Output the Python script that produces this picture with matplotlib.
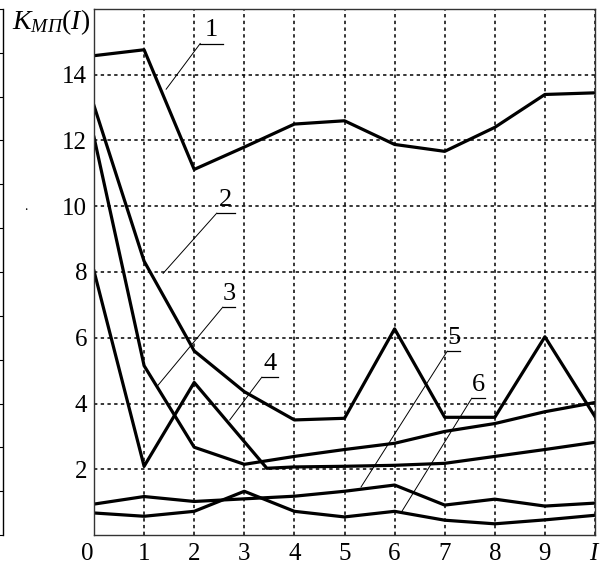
import matplotlib
matplotlib.use("Agg")
import matplotlib.pyplot as plt
import matplotlib.transforms as mtransforms
import numpy as np

plt.rcParams['font.family'] = ['Liberation Serif', 'DejaVu Serif']
plt.rcParams['mathtext.fontset'] = 'custom'
plt.rcParams['mathtext.rm'] = 'Liberation Serif'
plt.rcParams['mathtext.it'] = 'Liberation Serif:italic'

# значения I
I = [0, 1, 2, 3, 4, 5, 6, 7, 8, 9, 10]

# кривые K_МП(I)
k1 = [14.58, 14.76, 11.12, 11.8, 12.5, 12.6, 11.88, 11.67, 12.4, 13.4, 13.45]
k2 = [13.06, 8.33, 5.6, 4.36, 3.5, 3.55, 6.27, 3.58, 3.58, 6.03, 3.6]
k3 = [12.1, 5.15, 2.67, 2.15, 2.39, 2.6, 2.79, 3.15, 3.39, 3.75, 4.03]
k4_x = [0, 1, 2, 3.45, 4, 5, 6, 7, 8, 9, 10]
k4 = [8.03, 2.09, 4.64, 2.03, 2.07, 2.09, 2.12, 2.18, 2.39, 2.6, 2.82]
k5 = [0.94, 1.17, 1.02, 1.1, 1.18, 1.33, 1.52, 0.91, 1.09, 0.88, 0.97]
k6 = [0.67, 0.57, 0.72, 1.33, 0.72, 0.55, 0.72, 0.45, 0.34, 0.46, 0.6]

# подписи кривых: номер, левый край черты (x, y), длина черты, конец выноски
lab_txt = ['1', '2', '3', '4', '5', '6']
lab_xy = [(2.12, 14.95), (2.45, 9.79), (2.57, 6.93), (3.35, 4.80), (7.05, 5.59), (7.54, 4.16)]
lab_len = [0.45, 0.36, 0.24, 0.32, 0.26, 0.26]
lab_tip = [(1.44, 13.56), (1.38, 7.96), (1.28, 4.56), (2.71, 3.50), (5.33, 1.46), (6.15, 0.73)]

xticks = [0, 1, 2, 3, 4, 5, 6, 7, 8, 9, 10]
xtick_labels = ['0', '1', '2', '3', '4', '5', '6', '7', '8', '9', '$I$']
yticks = [2, 4, 6, 8, 10, 12, 14]

fig = plt.figure(figsize=(6.02, 5.66), dpi=100)
ax = fig.add_axes([94/602, 31/566, 501/602, 526/566])

lw = 2.3
ax.plot(I, k1, color='black', lw=lw)
ax.plot(I, k2, color='black', lw=lw)
ax.plot(I, k3, color='black', lw=lw)
ax.plot(k4_x, k4, color='black', lw=lw)
ax.plot(I, k5, color='black', lw=lw)
ax.plot(I, k6, color='black', lw=lw)

for t, (ux, uy), L, (tx, ty) in zip(lab_txt, lab_xy, lab_len, lab_tip):
    ax.plot([ux, ux + L], [uy, uy], color='black', lw=0.9)
    ax.plot([ux, tx], [uy, ty], color='black', lw=0.7)
    ax.text(ux + L / 2, uy + 0.08, t, ha='center', va='bottom', fontsize=19)

ax.set_xlim(0, 10)
ax.set_ylim(0, 16)
ax.set_xticks(xticks)
ax.set_xticklabels(xtick_labels)
ax.set_yticks(yticks)
ax.tick_params(length=0, labelsize=18)
ax.tick_params(axis='y', pad=5)
ax.tick_params(axis='x', pad=6)
ax.grid(True, color='black', linestyle=(0, (2.2, 2.2)), linewidth=1.1)
for s in ax.spines.values():
    s.set_linewidth(1.0)
    s.set_color('#333333')

# "0" сдвинут влево от оси
lbl0 = ax.get_xticklabels()[0]
lbl0.set_transform(lbl0.get_transform() + mtransforms.ScaledTranslation(-7/100, 0, fig.dpi_scale_trans))

fig.text(12/602, 1 - 22/566, r'$K_{МП}(I)$', fontsize=20, va='center', ha='left')

# край соседнего графика слева
ax0 = fig.add_axes([-0.2, 31/566, 0.2 + 3/602, 526/566])
ax0.set_xlim(0, 1)
ax0.set_ylim(0, 12)
ax0.set_yticks(np.arange(0, 13))
ax0.yaxis.tick_right()
ax0.tick_params(axis='y', direction='in', length=5, labelright=False)
ax0.set_xticks([])
for k in ['left', 'top', 'bottom']:
    ax0.spines[k].set_visible(False)
ax0.spines['right'].set_linewidth(1.0)
fig.text(26/602, 1 - 207/566, '.', fontsize=10, ha='center', va='center')

fig.savefig('out.png', dpi=100)
